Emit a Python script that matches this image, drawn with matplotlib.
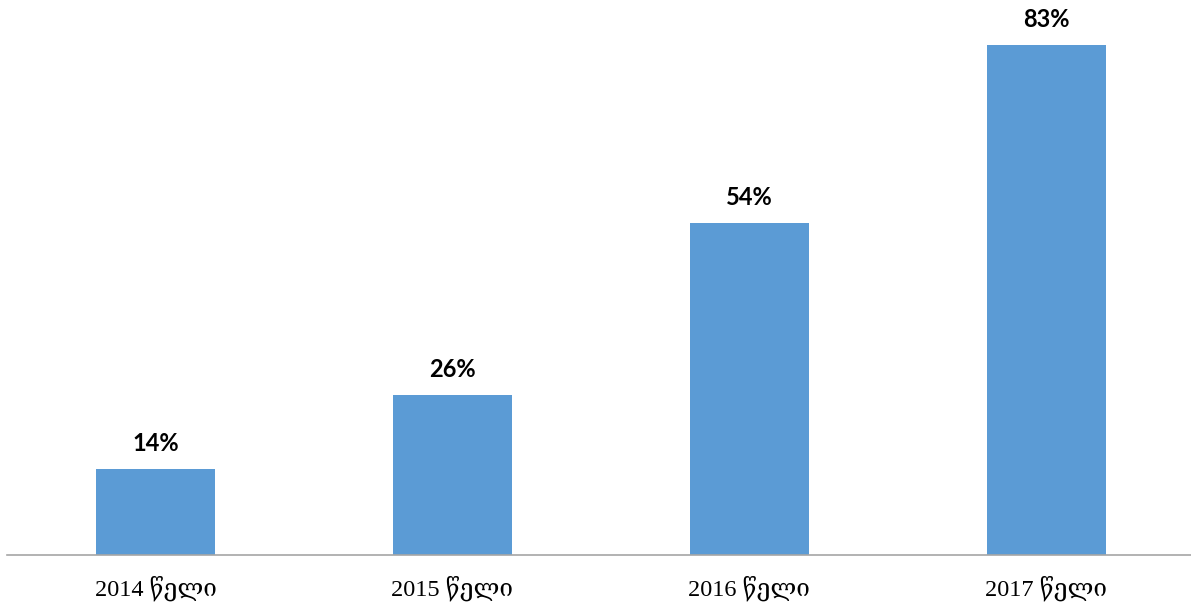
import matplotlib.pyplot as plt

weli = 'წელი'
years = ['2014', '2015', '2016', '2017']
percents = [14, 26, 54, 83]

labels = [f'{y} {weli}' for y in years]
x = range(len(years))

fig = plt.figure(figsize=(11.91, 6.09), dpi=100)
ax = fig.add_axes([7 / 1191, 54 / 609, 1184 / 1191, 555 / 609])

bars = ax.bar(x, percents, width=0.4, color='#5B9BD5')

# подписи процентов над столбцами
for b, v in zip(bars, percents):
    ax.annotate(f'{v}%', (b.get_x() + b.get_width() / 2, v),
                xytext=(0, 10), textcoords='offset points',
                ha='center', va='bottom', fontsize=17, fontweight='bold',
                family=['Lato', 'DejaVu Sans'], color='black')

ax.set_xlim(-0.5, 3.487)
ax.set_ylim(0, 90.3)
ax.set_xticks(list(x))
ax.set_xticklabels(labels, family=['Liberation Serif', 'DejaVu Serif', 'DejaVu Sans'],
                   fontsize=17.5)
ax.tick_params(axis='x', length=0, pad=15)
ax.set_yticks([])
for side in ['top', 'left', 'right']:
    ax.spines[side].set_visible(False)
ax.spines['bottom'].set_color('#A6A6A6')
ax.spines['bottom'].set_linewidth(1.2)

fig.savefig('out.png', dpi=100)
